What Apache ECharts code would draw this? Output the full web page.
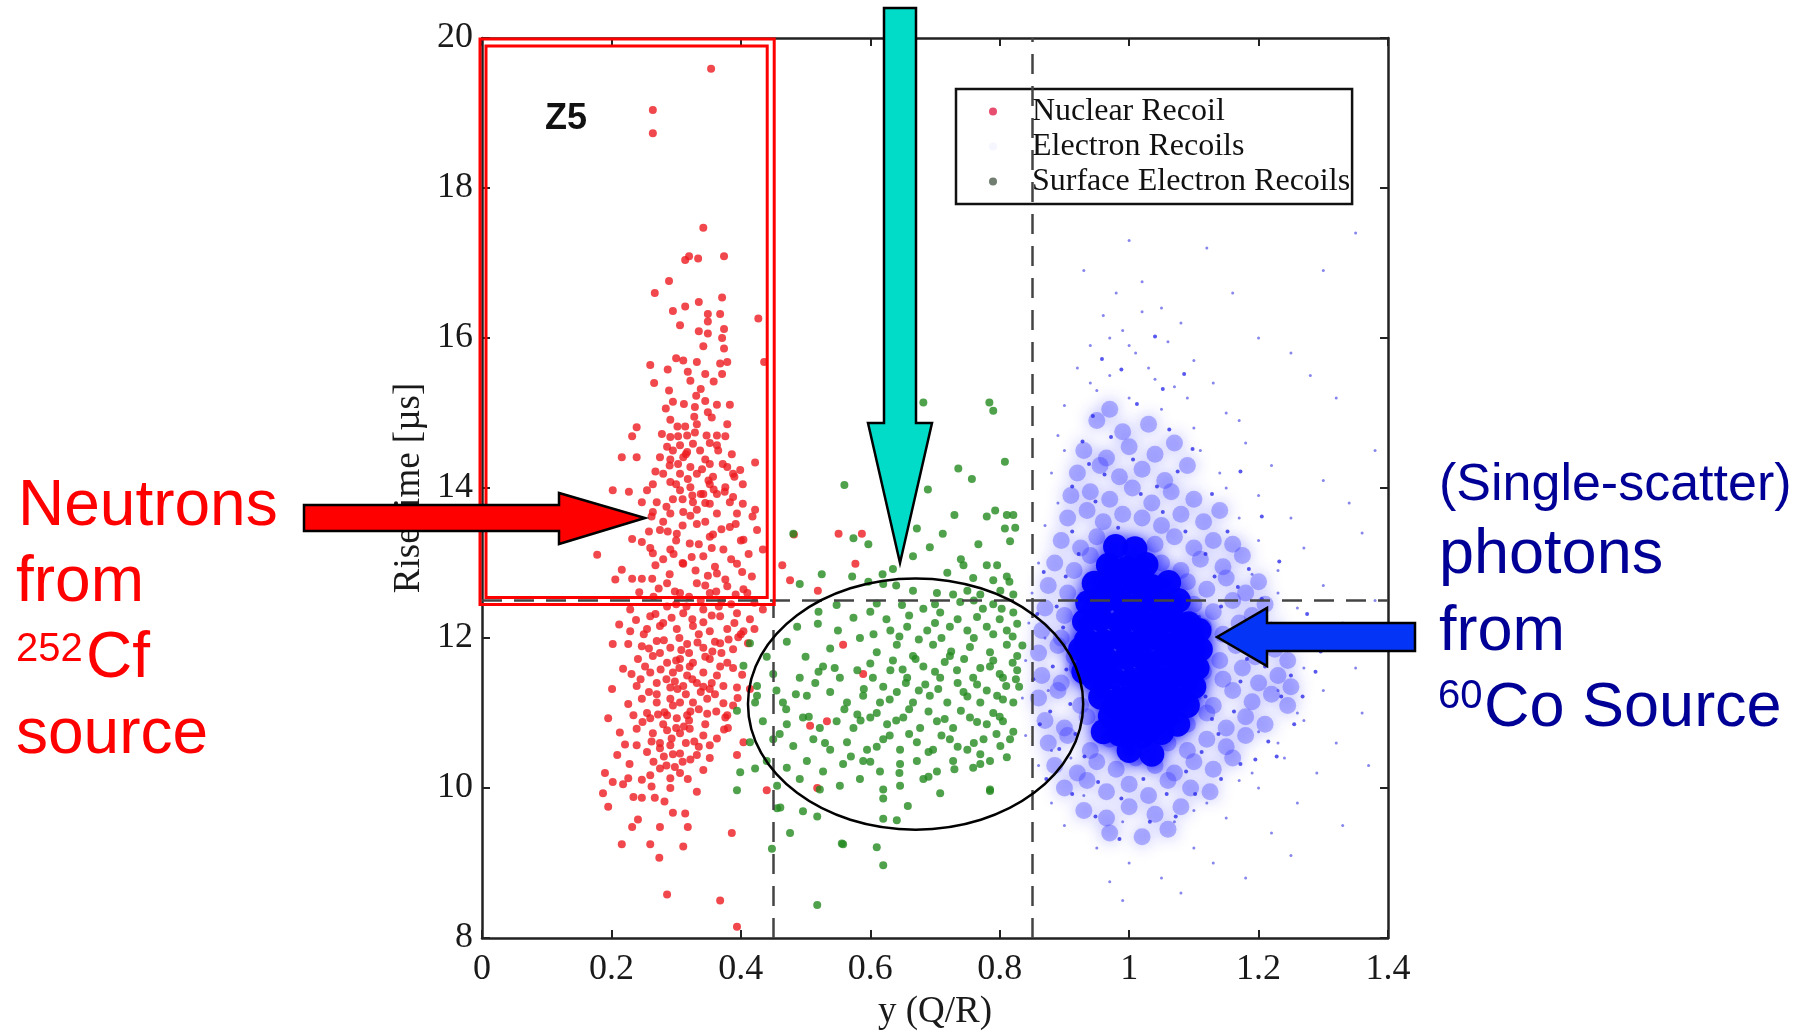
<!DOCTYPE html>
<html><head><meta charset="utf-8">
<script src="https://cdn.jsdelivr.net/npm/echarts@6/dist/echarts.min.js"></script>
<style>html,body{margin:0;padding:0;background:#fff}#c{width:1814px;height:1036px}</style>
</head><body><div id="c"></div>
<script>
// ---------- data ----------
const xTickLabels = ['0','0.2','0.4','0.6','0.8','1','1.2','1.4'];
const xRange = [0, 1.4], xStep = 0.2;
const yRange = [8, 20], yStep = 2;

const nuclearRecoil = [
[0.354,19.59],[0.264,19.04],[0.264,18.73],
[0.342,17.47],[0.314,17.04],[0.320,17.09],[0.334,17.06],[0.374,17.09],[0.289,16.76],[0.267,16.60],[0.371,16.54],[0.335,16.48],[0.314,16.42],[0.295,16.36],[0.349,16.32],[0.368,16.32],[0.427,16.26],[0.306,16.17],[0.349,16.22],[0.335,16.09],[0.349,16.06],[0.374,16.12],[0.371,16.00],[0.342,15.89],[0.374,15.86],[0.260,15.64],[0.300,15.73],[0.311,15.70],[0.332,15.68],[0.368,15.66],[0.379,15.68],[0.436,15.68],[0.287,15.58],[0.318,15.55],[0.345,15.52],[0.371,15.52],[0.266,15.40],[0.322,15.43],[0.289,15.30],[0.331,15.23],[0.345,15.16],[0.295,15.15],[0.363,15.11],[0.383,15.11],[0.284,15.06],[0.329,15.08],[0.349,15.01],[0.291,14.91],[0.355,14.94],[0.239,14.81],[0.314,14.82],[0.332,14.85],[0.379,14.85],[0.232,14.69],[0.278,14.72],[0.291,14.68],[0.303,14.69],[0.317,14.70],[0.329,14.74],[0.347,14.70],[0.363,14.70],[0.376,14.69],[0.306,14.57],[0.326,14.59],[0.352,14.60],[0.363,14.57],[0.295,14.50],[0.317,14.48],[0.337,14.50],[0.216,14.41],[0.239,14.41],[0.275,14.41],[0.291,14.38],[0.311,14.41],[0.345,14.38],[0.386,14.45],[0.422,14.34],[0.352,14.32],[0.322,14.28],[0.303,14.32],[0.379,14.28],[0.280,14.19],[0.306,14.19],[0.332,14.19],[0.357,14.15],[0.388,14.19],[0.399,14.24],[0.264,14.05],[0.291,14.08],[0.322,14.01],[0.352,14.05],[0.376,14.01],[0.403,14.05],[0.202,13.97],[0.227,13.95],[0.255,13.97],[0.306,13.97],[0.342,13.92],[0.363,13.92],[0.388,13.88],[0.247,13.81],[0.270,13.81],[0.295,13.85],[0.326,13.81],[0.352,13.79],[0.383,13.81],[0.403,13.79],[0.422,13.71],[0.264,13.68],[0.291,13.66],[0.311,13.68],[0.332,13.71],[0.363,13.66],[0.394,13.66],
[0.178,13.11],[0.232,13.32],[0.247,13.28],[0.216,12.91],[0.206,12.78],[0.232,12.79],[0.247,12.79],[0.263,12.79],[0.264,13.13],[0.275,13.44],[0.291,13.18],[0.301,13.39],[0.311,12.99],[0.321,13.26],[0.332,13.52],[0.342,13.09],[0.352,13.35],[0.363,12.86],[0.373,13.18],[0.383,13.48],[0.394,12.99],[0.404,13.31],[0.417,12.82],[0.425,13.44],[0.286,12.73],[0.332,12.73],[0.379,12.69],[0.306,12.60],[0.352,12.60],[0.404,12.65],[0.434,13.18],
[0.229,12.38],[0.260,12.29],[0.286,12.42],[0.311,12.33],[0.342,12.38],[0.368,12.29],[0.394,12.33],[0.414,12.25],[0.434,12.38],[0.229,12.09],[0.255,12.12],[0.275,12.16],[0.301,12.12],[0.326,12.16],[0.352,12.09],[0.379,12.12],[0.404,12.09],[0.202,11.92],[0.226,11.92],[0.247,11.89],[0.270,11.96],[0.291,11.87],[0.317,11.92],[0.342,11.87],[0.368,11.93],[0.388,11.85],[0.411,11.93],[0.241,11.72],[0.264,11.76],[0.286,11.67],[0.306,11.72],[0.326,11.67],[0.352,11.72],[0.379,11.67],[0.218,11.59],[0.260,11.54],[0.295,11.54],[0.317,11.50],[0.342,11.54],[0.363,11.50],[0.388,11.60],[0.201,11.32],[0.239,11.36],[0.270,11.40],[0.291,11.34],[0.311,11.36],[0.332,11.40],[0.352,11.32],[0.373,11.36],[0.394,11.34],[0.414,11.32],[0.247,11.19],[0.270,11.14],[0.291,11.19],[0.306,11.14],[0.326,11.14],[0.348,11.19],[0.373,11.13],[0.195,10.93],[0.234,10.97],[0.260,10.93],[0.286,10.97],[0.301,10.93],[0.317,10.97],[0.348,10.99],[0.379,10.97],[0.213,10.74],[0.239,10.79],[0.264,10.73],[0.286,10.77],[0.306,10.73],[0.321,10.79],[0.342,10.70],[0.363,10.66],[0.404,10.61],[0.209,10.44],[0.239,10.57],[0.255,10.48],[0.275,10.53],[0.291,10.57],[0.306,10.46],[0.332,10.44],[0.352,10.40],[0.394,10.44],[0.190,10.20],[0.202,10.08],[0.226,10.13],[0.247,10.11],[0.260,10.17],[0.275,10.26],[0.291,10.13],[0.306,10.20],[0.332,9.95],[0.187,9.93],[0.195,9.75],[0.234,9.88],[0.247,9.87],[0.267,9.87],[0.291,10.00],[0.295,9.67],[0.314,9.66],[0.232,9.48],[0.241,9.58],[0.275,9.48],[0.318,9.48],[0.216,9.25],[0.260,9.25],[0.311,9.22],[0.274,9.07],[0.386,9.40],[0.286,8.58],[0.368,8.50],[0.394,8.15],[0.440,9.97],[0.376,10.94],[0.388,11.10],
[0.482,13.38],[0.551,13.39],[0.587,13.39],[0.577,12.99],[0.464,12.97],[0.476,12.77],[0.519,12.63],[0.558,11.91],[0.589,11.52],[0.507,10.83],[0.533,10.89],[0.518,10.00],
[0.28,13.55],[0.31,13.50],[0.345,13.55],[0.37,13.45],[0.30,13.30],[0.335,13.25],[0.355,13.20],[0.28,13.05],[0.31,13.00],[0.33,12.90],[0.36,12.95],[0.385,13.05],[0.29,12.85],[0.32,12.55],[0.345,12.70],[0.37,12.50],[0.30,12.45],[0.325,12.25],[0.355,12.30],[0.385,12.45],[0.28,12.20],[0.305,12.00],[0.335,12.05],[0.36,11.95],[0.39,12.20],[0.275,11.80],[0.30,11.70],[0.32,11.80],[0.345,11.75],[0.37,11.80],[0.285,11.45],[0.305,11.60],[0.325,11.45],[0.355,11.40],[0.27,11.25],[0.295,11.10],[0.315,11.25],[0.335,11.05],[0.36,11.25],[0.28,10.85],[0.30,10.80],[0.32,10.90],[0.345,10.85],[0.275,10.60],[0.295,10.45],[0.315,10.60],[0.335,10.55],[0.285,10.30],[0.31,10.35],[0.265,10.35],[0.255,11.00],[0.245,11.45],[0.25,12.05],[0.265,12.55],[0.26,13.20],[0.40,13.30],[0.41,12.60],[0.40,12.05],[0.395,11.20],[0.38,10.80],
[0.29,14.30],[0.315,14.45],[0.34,14.25],[0.365,14.50],[0.30,14.05],[0.325,13.90],[0.35,14.10],[0.375,13.95],[0.285,13.75],[0.31,13.85],[0.345,13.80],[0.39,14.15],
[0.262,13.62],[0.287,13.42],[0.322,13.63],[0.357,13.38],[0.392,13.52],[0.412,13.12],[0.268,12.97],[0.296,13.12],[0.324,13.08],[0.349,12.83],[0.376,12.78],[0.402,12.88],[0.243,12.61],[0.273,12.66],[0.298,12.62],[0.338,12.50],[0.362,12.62],[0.392,12.58],[0.421,12.47],[0.238,12.24],[0.268,12.32],[0.293,12.27],[0.316,12.42],[0.342,12.21],[0.366,12.42],[0.396,12.01],[0.421,12.12],[0.212,12.18],[0.258,11.86],[0.281,11.97],[0.308,11.84],[0.333,11.94],[0.356,11.82],[0.381,11.98],[0.231,11.52],[0.252,11.62],[0.276,11.58],[0.298,11.42],[0.321,11.62],[0.338,11.28],[0.368,11.62],[0.402,11.51],[0.226,11.12],[0.258,11.28],[0.282,11.01],[0.302,11.32],[0.322,11.02],[0.342,11.35],[0.362,11.02],[0.221,10.58],[0.248,10.88],[0.272,10.98],[0.293,10.66],[0.312,10.82],[0.328,10.62],[0.352,10.57],[0.374,10.78],[0.228,10.32],[0.262,10.62],[0.281,10.42],[0.298,10.28],[0.322,10.38],[0.342,10.24],[0.218,10.05],[0.262,10.02],[0.282,9.82],[0.318,10.12],[0.302,14.82],[0.328,14.95],[0.338,15.32],[0.312,15.12],[0.358,15.42],[0.286,14.55],[0.268,14.22],[0.358,13.98],[0.318,14.12],[0.338,13.92],[0.372,14.32],[0.258,13.42],[0.418,13.62]
];

const surfaceRecoils = [
[0.682,15.14],[0.784,15.14],[0.790,15.03],[0.808,14.35],[0.736,14.26],[0.757,14.12],[0.689,13.98],[0.560,14.04],[0.481,13.39],[0.574,13.33],[0.597,13.25],[0.672,13.46],[0.692,13.21],[0.712,13.39],[0.730,13.64],[0.780,13.62],[0.793,13.70],[0.811,13.64],[0.821,13.64],[0.808,13.46],[0.824,13.47],[0.767,13.25],[0.816,13.29],[0.666,13.09],[0.635,12.92],[0.619,12.85],[0.525,12.85],[0.491,12.72],[0.572,12.82],[0.719,12.87],[0.744,12.97],[0.780,12.97],[0.796,12.97],[0.811,12.82],[0.790,12.77],[0.759,12.80],[0.728,12.58],[0.750,12.63],[0.770,12.58],[0.801,12.63],[0.821,12.58],[0.666,12.63],[0.703,12.60],[0.620,12.72],[0.597,12.75],
[0.548,12.44],[0.610,12.46],[0.649,12.44],[0.682,12.39],[0.708,12.34],[0.739,12.48],[0.774,12.39],[0.803,12.39],[0.821,12.34],[0.574,12.27],[0.487,12.15],[0.519,12.19],[0.631,12.10],[0.657,12.15],[0.688,12.10],[0.723,12.15],[0.750,12.10],[0.780,12.15],[0.811,12.10],[0.827,12.19],
[0.471,11.95],[0.538,11.86],[0.584,12.00],[0.610,11.81],[0.641,11.91],[0.666,11.76],[0.697,11.91],[0.723,11.76],[0.754,11.88],[0.785,11.81],[0.811,11.91],[0.827,11.76],
[0.450,11.52],[0.491,11.47],[0.527,11.62],[0.553,11.47],[0.580,11.57],[0.604,11.47],[0.631,11.57],[0.657,11.47],[0.682,11.62],[0.708,11.47],[0.734,11.57],[0.759,11.47],[0.785,11.62],[0.805,11.47],[0.827,11.57],
[0.425,11.23],[0.465,11.14],[0.502,11.23],[0.538,11.28],[0.564,11.14],[0.589,11.23],[0.615,11.14],[0.641,11.28],[0.666,11.14],[0.692,11.23],[0.719,11.14],[0.744,11.28],[0.770,11.14],[0.796,11.23],[0.821,11.14],
[0.434,10.89],[0.471,10.85],[0.496,10.94],[0.522,10.80],[0.548,10.89],[0.574,10.80],[0.600,10.94],[0.626,10.85],[0.651,10.94],[0.677,10.80],[0.703,10.89],[0.728,10.80],[0.754,10.94],[0.780,10.85],[0.805,10.89],[0.821,10.75],
[0.414,10.61],[0.450,10.65],[0.481,10.56],[0.512,10.65],[0.538,10.51],[0.564,10.61],[0.595,10.51],[0.620,10.65],[0.646,10.51],[0.672,10.61],[0.697,10.51],[0.723,10.65],[0.750,10.51],[0.775,10.65],[0.801,10.56],[0.816,10.65],
[0.440,10.36],[0.471,10.27],[0.502,10.36],[0.527,10.22],[0.558,10.32],[0.589,10.36],[0.615,10.22],[0.646,10.32],[0.672,10.36],[0.703,10.22],[0.728,10.36],[0.759,10.27],[0.785,10.36],[0.811,10.41],
[0.456,10.03],[0.491,10.12],[0.522,9.98],[0.553,10.03],[0.584,10.12],[0.620,9.98],[0.646,10.03],[0.682,10.12],[0.708,9.93],[0.770,10.32],[0.785,9.98],
[0.461,9.74],[0.496,9.69],[0.518,9.62],[0.620,9.86],[0.658,9.76],[0.476,9.40],[0.620,9.59],[0.641,9.57],[0.556,9.26],[0.610,9.21],[0.620,8.97],[0.518,8.44],[0.448,9.19],[0.558,9.25],[0.785,9.96],
[0.414,11.93],[0.404,11.63],[0.425,11.36],[0.422,11.14],[0.394,11.03],[0.399,10.21],[0.422,10.26],[0.394,9.97],[0.456,9.73],
[0.625,12.25],[0.66,12.30],[0.70,12.20],[0.735,12.25],[0.765,12.28],[0.80,12.25],[0.635,11.70],[0.67,11.72],[0.715,11.68],[0.745,11.72],[0.79,11.70],[0.82,11.67],[0.62,11.35],[0.655,11.40],[0.685,11.38],[0.735,11.40],[0.765,11.38],[0.81,11.36],[0.61,11.00],[0.66,11.05],[0.69,11.02],[0.74,11.03],[0.79,11.00],[0.63,10.70],[0.66,10.72],[0.71,10.70],[0.76,10.60],[0.80,10.95],[0.83,11.35],[0.835,11.90],[0.545,11.60],[0.56,11.05],[0.585,10.90],[0.515,11.40],[0.50,11.75],[0.47,11.05],[0.455,11.30],
[0.605,12.05],[0.645,12.02],[0.675,11.98],[0.71,12.00],[0.76,12.00],[0.79,12.05],[0.82,12.02],[0.60,11.66],[0.65,11.58],[0.70,11.55],[0.725,11.82],[0.77,11.60],[0.80,11.52],[0.825,11.45],[0.59,11.32],[0.63,11.18],[0.675,11.30],[0.705,11.32],[0.75,11.22],[0.78,11.30],[0.805,11.18],[0.58,10.98],[0.64,10.90],[0.715,10.92],[0.765,10.88],[0.795,10.72],[0.61,10.55],[0.69,10.48],[0.735,10.55],[0.77,10.45],[0.645,10.20],[0.69,10.15],[0.73,10.25],[0.60,10.35],[0.53,10.60],[0.57,10.42],[0.505,10.95],[0.52,11.55],[0.485,11.25],[0.46,10.72],[0.55,12.10],[0.60,12.35],[0.70,12.45],[0.76,12.50],[0.79,12.45],[0.815,12.75],[0.74,13.05],[0.64,12.70],[0.52,12.35],[0.44,11.75]
];

const electronCore = [
[0.968,12.97],[0.997,12.93],[1.026,12.98],
[0.946,12.73],[0.976,12.70],[1.006,12.75],[1.034,12.69],[1.061,12.74],
[0.936,12.47],[0.962,12.50],[0.991,12.46],[1.021,12.49],[1.049,12.45],[1.076,12.50],
[0.931,12.22],[0.956,12.25],[0.986,12.20],[1.014,12.24],[1.041,12.21],[1.069,12.23],[1.092,12.19],
[0.934,11.97],[0.961,11.95],[0.989,11.99],[1.018,11.96],[1.046,11.98],[1.074,11.94],[1.096,11.99],
[0.939,11.72],[0.966,11.70],[0.996,11.74],[1.024,11.71],[1.054,11.73],[1.083,11.70],
[0.946,11.46],[0.974,11.48],[1.004,11.44],[1.034,11.47],[1.063,11.45],[1.088,11.48],
[0.956,11.21],[0.986,11.19],[1.015,11.22],[1.044,11.20],[1.073,11.18],
[0.971,10.96],[1.001,10.94],[1.029,10.97],[1.058,10.95],
[0.985,10.72],[1.020,10.70],[1.050,10.74],
[0.979,13.22],[1.009,13.19],
[1.105,11.60],[1.110,11.85],[1.108,12.10],[1.100,11.35],[1.090,11.10],[0.925,11.85],[0.930,11.55],
[0.960,10.75],[1.075,10.85],[1.000,10.50],[1.035,10.45]
];

const electronMid = [
[0.95,14.90],[0.99,14.75],[1.03,14.85],[0.97,15.05],
[0.93,14.50],[0.965,14.40],[1.00,14.55],[1.04,14.45],[1.07,14.60],
[0.92,14.20],[0.955,14.30],[0.985,14.15],[1.02,14.25],[1.055,14.10],[1.09,14.30],
[0.91,13.90],[0.94,13.95],[0.97,13.85],[1.005,14.00],[1.035,13.80],[1.065,13.95],[1.10,13.85],
[0.905,13.60],[0.935,13.70],[0.96,13.55],[0.99,13.65],[1.02,13.60],[1.05,13.50],[1.08,13.65],[1.115,13.55],[1.14,13.70],
[0.895,13.30],[0.925,13.20],[0.95,13.35],[1.04,13.25],[1.07,13.35],[1.10,13.20],[1.13,13.30],[1.16,13.25],
[0.885,13.00],[0.915,12.90],[0.94,13.10],[1.05,13.00],[1.08,12.90],[1.11,13.05],[1.145,12.95],[1.175,13.10],
[0.875,12.70],[0.905,12.60],[1.09,12.75],[1.12,12.65],[1.15,12.80],[1.18,12.60],[1.20,12.75],
[0.87,12.40],[0.90,12.30],[1.10,12.45],[1.13,12.35],[1.16,12.50],[1.19,12.30],[1.21,12.45],
[0.865,12.10],[0.895,12.00],[1.115,12.15],[1.145,12.05],[1.17,12.20],[1.20,12.00],[1.225,12.10],
[0.86,11.80],[0.89,11.90],[0.915,11.75],[1.11,11.85],[1.14,11.70],[1.165,11.90],[1.195,11.75],[1.225,11.85],[1.245,11.70],
[0.865,11.50],[0.895,11.40],[0.92,11.60],[1.115,11.55],[1.145,11.45],[1.175,11.60],[1.20,11.40],[1.23,11.50],[1.25,11.35],
[0.86,11.20],[0.89,11.30],[0.925,11.10],[1.10,11.25],[1.13,11.10],[1.16,11.30],[1.19,11.15],[1.22,11.25],[1.245,11.10],
[0.87,10.90],[0.90,10.80],[0.935,10.95],[1.09,10.85],[1.12,11.00],[1.15,10.80],[1.18,10.95],[1.21,10.85],
[0.875,10.60],[0.905,10.70],[0.94,10.50],[0.97,10.65],[1.00,10.55],[1.03,10.70],[1.06,10.60],[1.09,10.50],[1.12,10.65],[1.15,10.55],[1.18,10.70],
[0.885,10.30],[0.92,10.20],[0.95,10.35],[0.98,10.25],[1.01,10.40],[1.04,10.30],[1.07,10.20],[1.10,10.35],[1.13,10.25],[1.16,10.40],
[0.90,10.00],[0.935,10.10],[0.965,9.95],[1.00,10.05],[1.03,9.90],[1.06,10.10],[1.095,10.00],[1.125,9.95],
[0.93,9.70],[0.965,9.60],[1.00,9.75],[1.04,9.65],[1.08,9.75],
[0.97,9.40],[1.02,9.35],[1.06,9.45]
];

const electronSpeckle = [
[0.912,13.42],[0.948,13.82],[0.983,13.47],[1.018,13.92],[1.052,13.68],[1.087,13.42],[1.118,13.12],[0.928,14.62],[0.962,14.18],[1.006,14.38],[1.043,14.02],[1.075,14.22],[0.944,14.96],[1.012,15.12],[0.902,12.82],[0.926,12.52],[0.898,12.14],[0.918,11.92],[0.903,11.58],[0.909,11.12],[0.917,10.72],[0.931,10.42],[0.952,10.08],[0.988,9.86],[1.022,10.12],[1.058,9.92],[1.088,10.22],[1.112,10.48],[1.138,10.72],[1.162,11.02],[1.172,11.42],[1.182,11.72],[1.158,12.02],[1.142,12.42],[1.168,12.68],[1.132,12.82],[1.108,12.28],[1.102,11.62],[1.118,11.22],[1.098,10.98],[1.128,10.92],[1.21,11.62],[1.235,11.22],[1.215,10.62],[1.195,10.38],[1.238,11.92],[1.205,12.52],[1.185,12.92],[1.152,13.42],[1.128,13.92],[1.098,14.52],[1.062,14.78],[0.972,14.68],[0.938,14.32],[0.922,13.12],[0.888,12.42],[0.882,11.62],[0.878,11.02],[0.892,10.52],[0.912,9.92],[0.948,9.62],[0.985,9.32],[1.032,9.55],[1.072,9.62],[1.102,9.92],[1.142,10.12],[1.172,10.32],[1.25,11.5],[1.268,11.22],[1.255,10.85],[1.228,10.42],[1.288,11.55],[1.296,11.82],[1.275,12.32],[1.232,13.02],[1.205,13.62],[1.172,14.22],[1.052,15.32],[0.988,15.58],[1.04,16.02],[0.958,15.72],[1.085,15.52],[0.912,14.02],[0.868,12.88],[0.858,12.32],[0.852,11.45],[0.862,10.85],[0.872,10.12]
];

const electronSparse = [
[0.93,16.9],[0.98,16.6],[1.02,16.75],[0.96,16.3],[1.05,16.4],[0.99,16.1],[1.08,16.2],[0.94,15.9],[1.01,15.8],[1.06,15.95],[0.92,15.6],[0.97,15.5],[1.03,15.6],[1.10,15.7],[0.95,15.3],[1.00,15.2],[1.07,15.35],[1.13,15.4],[0.90,15.1],[1.05,15.05],[1.15,15.0],[0.89,14.7],[1.10,14.8],[1.18,14.6],[1.22,14.3],[0.88,14.2],[1.20,13.9],[1.25,13.6],[0.87,13.5],[1.27,13.2],[0.86,13.0],[1.23,12.9],[1.30,12.7],[0.85,12.6],[1.26,12.4],[1.33,12.2],[0.845,12.2],[1.28,11.9],[1.35,11.6],[0.84,11.7],[1.30,11.3],[1.36,11.0],[0.835,11.2],[1.27,10.9],[1.32,10.6],[0.84,10.7],[1.24,10.4],[1.29,10.2],[0.86,10.3],[1.20,10.0],[1.26,9.8],[0.88,9.8],[1.15,9.6],[1.22,9.4],[0.90,9.5],[0.95,9.2],[1.10,9.2],[1.00,9.0],[1.05,8.8],[1.13,9.0],[0.97,8.75],[1.08,8.6],
[1.16,16.6],[1.30,16.9],[1.35,17.4],[1.25,15.8],[1.32,15.2],[1.38,14.5],[1.30,14.1],[1.36,13.4],[1.12,17.2],[1.00,17.3],[1.20,16.0],[1.28,15.5],[1.34,13.8],[1.38,12.5],[1.37,10.3],[1.33,9.5],[1.25,9.1],[1.18,8.8],[0.99,8.5],
[0.87,12.0],[0.875,11.3],[0.88,10.5],[0.89,13.8],[0.90,14.5],[1.14,14.2],[1.17,13.6],[1.20,13.3],[1.23,12.6],[1.26,12.0],[1.27,11.6],[1.26,11.0],[1.23,10.6],[1.19,10.2],[1.12,9.8],[1.07,9.55],[0.99,9.55],[0.93,9.9],[0.91,10.4],[1.17,14.9],[0.94,15.4],[1.04,15.45],[1.00,15.9],[1.02,16.35],[0.97,16.0],[1.09,15.2],[1.11,14.5],[1.15,14.0],[1.19,12.85],[1.22,12.2],[1.24,11.85],[1.23,11.3],[1.20,10.75],[1.17,10.1],[1.10,9.7]
];

// cut lines and annotation regions (data units)
const cutX = [0.45, 0.85];
const cutY = 12.5;
const z5Box = { x: [0, 0.45], y: [12.5, 20] };
const ellipseCenter = [0.67, 11.12];
const ellipseRadius = [0.259, 1.675];

// ---------- chart ----------
const chart = echarts.init(document.getElementById('c'));
const SERIF = '"Liberation Serif", "Times New Roman", serif';
const SANS = '"Liberation Sans", Arial, sans-serif';
const INK = '#1a1a1a';

function frameAxis(extra) {
  return Object.assign({
    type: 'value',
    axisLine: { show: true, onZero: false, lineStyle: { color: '#222', width: 2.5 } },
    axisTick: { show: true, inside: true, length: 8, lineStyle: { color: '#222', width: 2 } },
    splitLine: { show: false }
  }, extra);
}

const option = {
  animation: false,
  backgroundColor: '#fff',
  grid: { left: 482, right: 426, top: 38, bottom: 92 },
  xAxis: [
    frameAxis({
      min: xRange[0], max: xRange[1], interval: xStep,
      name: 'y (Q/R)', nameLocation: 'middle', nameGap: 56,
      nameTextStyle: { fontFamily: SERIF, fontSize: 37, color: INK },
      axisLabel: { fontFamily: SERIF, fontSize: 36, color: INK, margin: 14,
        formatter: v => xTickLabels[Math.round((v - xRange[0]) / xStep)] }
    }),
    frameAxis({ position: 'top', min: xRange[0], max: xRange[1], interval: xStep, axisLabel: { show: false } })
  ],
  yAxis: [
    frameAxis({
      min: yRange[0], max: yRange[1], interval: yStep,
      name: 'Rise time [µs]', nameLocation: 'middle', nameGap: 54,
      nameTextStyle: { fontFamily: SERIF, fontSize: 37, color: INK },
      axisLabel: { fontFamily: SERIF, fontSize: 36, color: INK, margin: 9 }
    }),
    frameAxis({ position: 'right', min: yRange[0], max: yRange[1], interval: yStep, axisLabel: { show: false } })
  ],
  legend: {
    orient: 'vertical', left: 956, top: 89,
    padding: [5, 2, 5, 33], itemGap: 0, itemWidth: 8, itemHeight: 8,
    backgroundColor: '#fff', borderColor: '#111', borderWidth: 2.5,
    selectedMode: false,
    textStyle: { fontFamily: SERIF, fontSize: 32, color: '#111', lineHeight: 35, padding: [0, 0, 0, 30] },
    data: [
      { name: 'Nuclear Recoil', icon: 'circle', itemStyle: { color: '#e0204a' } },
      { name: 'Electron Recoils', icon: 'circle', itemStyle: { color: 'rgba(130,130,255,0.12)' } },
      { name: 'Surface Electron Recoils', icon: 'circle', itemStyle: { color: '#4d5c4d' } }
    ]
  },
  series: [
    { name: 'Electron Recoils', type: 'scatter', data: electronSparse, symbolSize: 3,
      itemStyle: { color: '#3535e0', opacity: 0.6 }, silent: true },
    { name: 'Electron Recoils', type: 'scatter', data: electronMid, symbolSize: 17,
      itemStyle: { color: '#3a3aff', opacity: 0.36, shadowBlur: 16, shadowColor: '#3a3aff' }, silent: true },
    { name: 'Electron Recoils', type: 'scatter', data: electronSpeckle, symbolSize: 4,
      itemStyle: { color: '#2020e8', opacity: 0.75 }, silent: true },
    { name: 'Electron Recoils', type: 'scatter', data: electronCore, symbolSize: 25,
      itemStyle: { color: '#0000ff', opacity: 0.95, shadowBlur: 16, shadowColor: '#0000ff' }, silent: true },
    { name: 'Nuclear Recoil', type: 'scatter', data: nuclearRecoil, symbolSize: 8,
      itemStyle: { color: '#ec1a1f' }, silent: true,
      markLine: {
        silent: true, symbol: 'none', label: { show: false }, animation: false,
        lineStyle: { color: '#444', type: [20, 12], width: 2.5 },
        data: [
          [{ coord: [cutX[0], yRange[0]] }, { coord: [cutX[0], cutY] }],
          [{ coord: [cutX[1], yRange[0]] }, { coord: [cutX[1], yRange[1]] }],
          [{ coord: [xRange[0], cutY] }, { coord: [xRange[1], cutY] }]
        ]
      } },
    { name: 'Surface Electron Recoils', type: 'scatter', data: surfaceRecoils, symbolSize: 8,
      itemStyle: { color: '#23891f' }, silent: true }
  ]
};
chart.setOption(option);

// ---------- annotations ----------
const px = (x, y) => chart.convertToPixel({ gridIndex: 0 }, [x, y]);
const tl = px(z5Box.x[0], z5Box.y[1]);
const br = px(z5Box.x[1], z5Box.y[0]);
const ec = px(ellipseCenter[0], ellipseCenter[1]);
const erx = px(ellipseCenter[0] + ellipseRadius[0], ellipseCenter[1])[0] - ec[0];
const ery = ec[1] - px(ellipseCenter[0], ellipseCenter[1] + ellipseRadius[1])[1];

function txt(x, y, text, size, color, bold) {
  return { type: 'text', x: x, y: y, z: 120, silent: true,
    style: { text: text, font: (bold ? 'bold ' : '') + size + 'px ' + SANS, fill: color,
      align: 'left', verticalAlign: 'middle' } };
}
const RED = '#ff0000', NAVY = '#000096';

chart.setOption({
  graphic: [
    { type: 'rect', z: 90, silent: true,
      shape: { x: tl[0] - 2, y: tl[1] + 1, width: br[0] - tl[0] + 3, height: br[1] - tl[1] + 3 },
      style: { fill: 'none', stroke: RED, lineWidth: 3 } },
    { type: 'rect', z: 90, silent: true,
      shape: { x: tl[0] + 4, y: tl[1] + 8, width: br[0] - tl[0] - 10, height: br[1] - tl[1] - 11 },
      style: { fill: 'none', stroke: RED, lineWidth: 3 } },
    { type: 'ellipse', z: 95, silent: true,
      shape: { cx: ec[0], cy: ec[1], rx: erx, ry: ery },
      style: { fill: 'none', stroke: '#000', lineWidth: 2.5 } },
    { type: 'polygon', z: 110, silent: true,
      shape: { points: [[884, 8], [916, 8], [916, 423], [932, 423], [900, 563], [868, 423], [884, 423]] },
      style: { fill: '#00dcc8', stroke: '#000', lineWidth: 2.5 } },
    { type: 'polygon', z: 110, silent: true,
      shape: { points: [[304, 505], [559, 505], [559, 493], [645, 518], [559, 544], [559, 531], [304, 531]] },
      style: { fill: '#ff0000', stroke: '#000', lineWidth: 2.5 } },
    { type: 'polygon', z: 110, silent: true,
      shape: { points: [[1217, 637], [1267, 608], [1267, 623], [1415, 623], [1415, 651], [1267, 651], [1267, 666]] },
      style: { fill: '#0434f5', stroke: '#000', lineWidth: 2.5 } },
    txt(545, 119, 'Z5', 36, '#111', true),
    txt(18, 507, 'Neutrons', 64, RED),
    txt(16, 583, 'from', 64, RED),
    txt(16, 650, '252', 40, RED),
    txt(86, 659, 'Cf', 64, RED),
    txt(16, 735, 'source', 64, RED),
    txt(1439, 486, '(Single-scatter)', 52, NAVY),
    txt(1439, 556, 'photons', 63, NAVY),
    txt(1439, 633, 'from', 63, NAVY),
    txt(1438, 697, '60', 40, NAVY),
    txt(1484, 709, 'Co Source', 63, NAVY)
  ]
});
</script>
</body></html>
